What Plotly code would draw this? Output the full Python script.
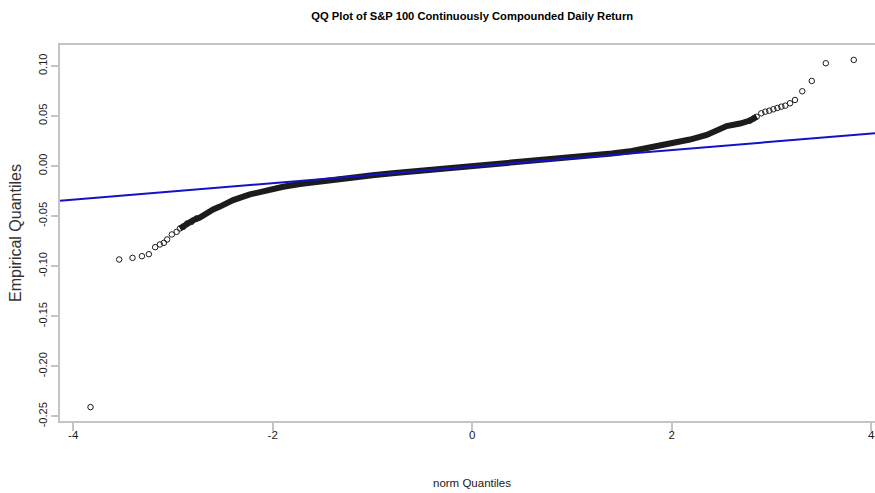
import plotly.graph_objects as go

# --- data: theoretical (normal) vs empirical quantiles of daily log returns ---

# isolated observations in the lower tail
tail_lo_theo = [-3.826, -3.539, -3.405, -3.311, -3.241, -3.178, -3.131, -3.091,
                -3.058, -3.011, -2.963, -2.930, -2.897, -2.857, -2.813, -2.763]
tail_lo_emp = [-0.2407, -0.0933, -0.0917, -0.0900, -0.0880, -0.0810, -0.0783, -0.0767,
               -0.0733, -0.0683, -0.0657, -0.0623, -0.0607, -0.0573, -0.0557, -0.0523]

# dense body of the distribution (thousands of overlapping observations)
body_theo = [-2.930, -2.857, -2.797, -2.730, -2.663, -2.597, -2.529, -2.396, -2.229,
             -2.061, -1.895, -1.727, -1.560, -1.394, -1.200, -1.000, -0.800, -0.600,
             -0.400, -0.200, 0.000, 0.200, 0.400, 0.600, 0.800, 1.000, 1.200, 1.400,
             1.600, 1.849, 2.015, 2.182, 2.350, 2.450, 2.550, 2.684, 2.784, 2.851]
body_emp = [-0.0623, -0.0573, -0.0540, -0.0515, -0.0470, -0.0433, -0.0405, -0.0340,
            -0.0283, -0.0240, -0.0207, -0.0180, -0.0157, -0.0133, -0.0112, -0.0091,
            -0.0071, -0.0054, -0.0037, -0.0020, -0.0003, 0.0014, 0.0031, 0.0048,
            0.0066, 0.0085, 0.0105, 0.0125, 0.0150, 0.0195, 0.0230, 0.0265, 0.0310,
            0.0355, 0.0400, 0.0425, 0.0455, 0.0493]

# isolated observations in the upper tail
tail_hi_theo = [2.784, 2.820, 2.851, 2.897, 2.937, 2.977, 3.018, 3.058, 3.098, 3.138,
                3.185, 3.235, 3.308, 3.403, 3.544, 3.824]
tail_hi_emp = [0.0455, 0.0475, 0.0493, 0.0527, 0.0543, 0.0553, 0.0567, 0.0580, 0.0593,
               0.0603, 0.0627, 0.0660, 0.0747, 0.0850, 0.1027, 0.1060]

# reference line through the first and third quartiles (qqline)
norm_quartiles = [-0.6744898, 0.6744898]
emp_quartiles = [-0.00607, 0.00506]

x_tick_vals = [-4, -2, 0, 2, 4]
x_tick_text = ["-4", "-2", "0", "2", "4"]
y_tick_vals = [-0.25, -0.20, -0.15, -0.10, -0.05, 0.00, 0.05, 0.10]
y_tick_text = ["-0.25", "-0.20", "-0.15", "-0.10", "-0.05", "0.00", "0.05", "0.10"]

x_range = [-4.132, 4.037]
y_range = [-0.2546, 0.1209]

# --- figure ---
FONT = "Liberation Sans, Arial, Helvetica, sans-serif"
INK = "#1a1a1a"
FRAME = "#c4c4c4"
POINT = "#1c1c1c"

fig = go.Figure()

fig.add_trace(go.Scatter(
    x=body_theo, y=body_emp, mode="lines",
    line=dict(color=POINT, width=6), hoverinfo="skip", showlegend=False,
))

tails_x = tail_lo_theo + tail_hi_theo
tails_y = tail_lo_emp + tail_hi_emp
fig.add_trace(go.Scatter(
    x=tails_x, y=tails_y, mode="markers",
    marker=dict(symbol="circle-open", size=5.5, color=POINT, line=dict(width=1)),
    showlegend=False,
))

slope = (emp_quartiles[1] - emp_quartiles[0]) / (norm_quartiles[1] - norm_quartiles[0])
intercept = emp_quartiles[0] - slope * norm_quartiles[0]
fig.add_trace(go.Scatter(
    x=x_range, y=[intercept + slope * v for v in x_range], mode="lines",
    line=dict(color="#1212c8", width=2), showlegend=False,
))

zero_frac = (0 - x_range[0]) / (x_range[1] - x_range[0])

fig.update_layout(
    width=875, height=493,
    margin=dict(l=60, r=0, t=45, b=72),
    paper_bgcolor="white", plot_bgcolor="white",
    font=dict(family=FONT, size=11, color=INK),
    title=dict(
        text="QQ Plot of S&P 100 Continuously Compounded Daily Return",
        font=dict(family=FONT, size=11.2, color="#000", weight="bold"),
        xref="paper", x=zero_frac, xanchor="center",
        yref="container", y=1 - 16 / 493, yanchor="middle",
    ),
    xaxis=dict(
        range=x_range, tickvals=x_tick_vals, ticktext=x_tick_text,
        showgrid=False, zeroline=False, showline=True, linecolor=FRAME, linewidth=1.5,
        mirror=True, ticks="outside", ticklen=2, tickcolor=FRAME, tickwidth=1.5,
        minor=dict(ticks="outside", ticklen=8, tickcolor=FRAME, tickwidth=1.5,
                   tickvals=x_tick_vals, showgrid=False),
        ticklabeloverflow="allow",
        tickfont=dict(size=11.5, color=INK), automargin=False,
    ),
    yaxis=dict(
        range=y_range, tickvals=y_tick_vals, ticktext=y_tick_text,
        showgrid=False, zeroline=False, showline=True, linecolor=FRAME, linewidth=1.5,
        ticks="outside", ticklen=7, tickcolor=FRAME, tickwidth=1.5, tickangle=-90,
        tickfont=dict(size=11, color=INK), automargin=False,
        title=dict(text="Empirical Quantiles", font=dict(size=16, color="#333"), standoff=11),
    ),
    annotations=[dict(
        text="norm Quantiles", xref="paper", x=zero_frac, xanchor="center",
        yref="paper", y=-(483 - 421) / 376, yanchor="middle", showarrow=False,
        font=dict(family=FONT, size=11.5, color=INK),
    )],
)

fig.write_html("out.html")
